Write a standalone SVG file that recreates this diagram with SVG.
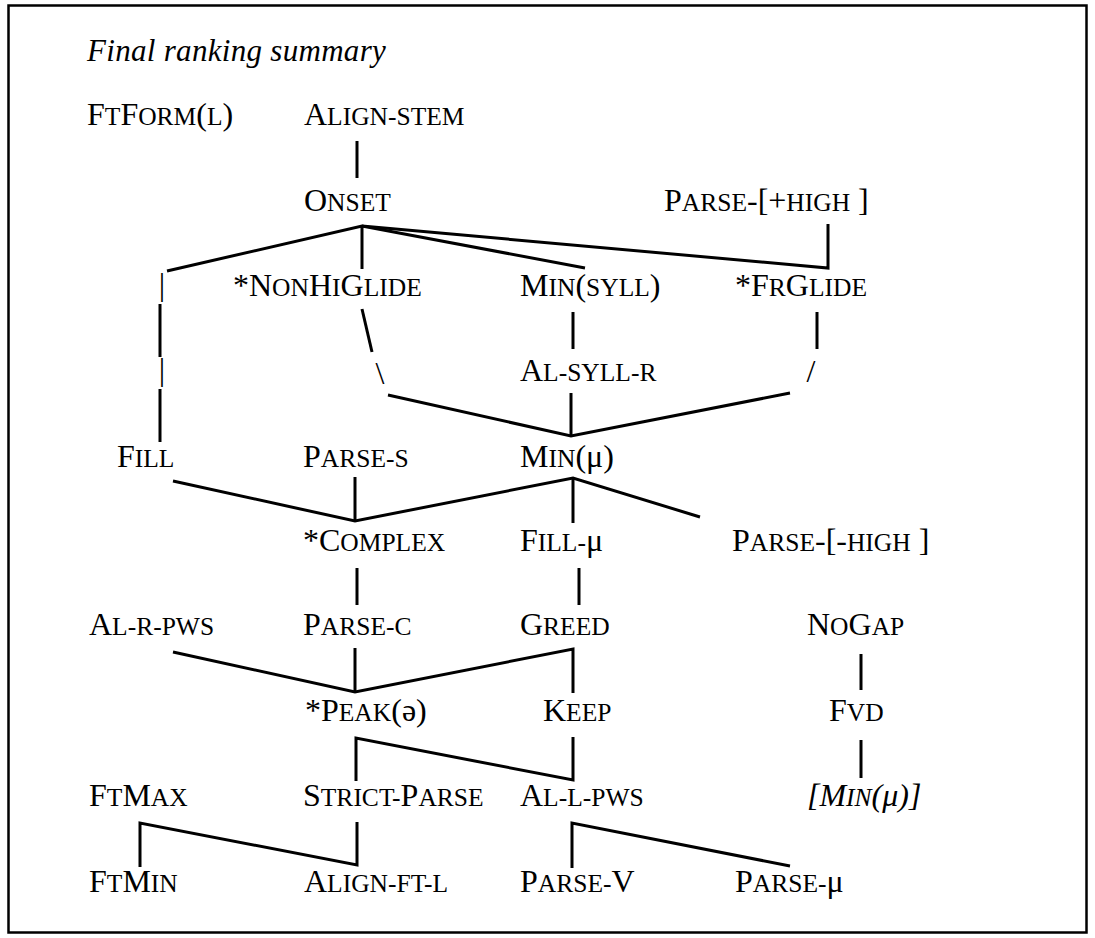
<svg xmlns="http://www.w3.org/2000/svg" width="1095" height="938" viewBox="0 0 1095 938">
<style>
.t{font-family:"Liberation Serif","Times New Roman",serif;font-size:32px;fill:#000}
.sc{font-size:25.5px}
.it{font-style:italic}
.ln{fill:none;stroke:#000;stroke-width:3;stroke-linejoin:miter}
</style>
<rect x="8.5" y="5.5" width="1078" height="927" fill="#fff" stroke="#000" stroke-width="2.5"/>
<text class="t it" x="87" y="61" style="font-size:31px;letter-spacing:0.3px">Final ranking summary</text>
<g id="connectors">
<polyline class="ln" points="357,141 357,178"/>
<polyline class="ln" points="167,271 362,226 585,268"/>
<polyline class="ln" points="362,226 362,269"/>
<polyline class="ln" points="362,226 828,268 828,224"/>
<polyline class="ln" points="160,304 160,357"/>
<polyline class="ln" points="160,389 160,442"/>
<text class="t" x="162" y="295" text-anchor="middle">|</text>
<text class="t" x="162" y="380" text-anchor="middle">|</text>
<polyline class="ln" points="362,309 372,352"/>
<text class="t" x="380" y="384" text-anchor="middle">\</text>
<polyline class="ln" points="388,395 571,436 790,393"/>
<text class="t" x="811" y="382" text-anchor="middle">/</text>
<polyline class="ln" points="573,312 573,349"/>
<polyline class="ln" points="817,312 817,349"/>
<polyline class="ln" points="571,393 571,436"/>
<polyline class="ln" points="173,481 355,521 573,478 700,517"/>
<polyline class="ln" points="355,477 355,521"/>
<polyline class="ln" points="573,478 573,523"/>
<polyline class="ln" points="357,568 357,605"/>
<polyline class="ln" points="579,568 579,605"/>
<polyline class="ln" points="173,652 355,692 573,649 573,693"/>
<polyline class="ln" points="355,648 355,692"/>
<polyline class="ln" points="861,654 861,690"/>
<polyline class="ln" points="356,781 356,738 573,780 573,737"/>
<polyline class="ln" points="861,740 861,778"/>
<polyline class="ln" points="140,867 140,823 357,865 357,822"/>
<polyline class="ln" points="572,868 572,823 790,866"/>
</g>
<g id="n1"><text class="t" x="87" y="125">F<tspan class="sc">T</tspan>F<tspan class="sc">ORM</tspan>(<tspan class="sc">L</tspan>)</text></g>
<g id="n2"><text class="t" x="304" y="125">A<tspan class="sc">LIGN-STEM</tspan></text></g>
<g id="n3"><text class="t" x="304" y="211">O<tspan class="sc">NSET</tspan></text></g>
<g id="n4"><text class="t" x="664" y="211">P<tspan class="sc">ARSE</tspan>-[+<tspan class="sc">HIGH</tspan> ]</text></g>
<g id="n5"><text class="t" x="233" y="296">*N<tspan class="sc">ON</tspan>H<tspan class="sc">I</tspan>G<tspan class="sc">LIDE</tspan></text></g>
<g id="n6"><text class="t" x="520" y="296">M<tspan class="sc">IN</tspan>(<tspan class="sc">SYLL</tspan>)</text></g>
<g id="n7"><text class="t" x="735" y="296">*F<tspan class="sc">R</tspan>G<tspan class="sc">LIDE</tspan></text></g>
<g id="n8"><text class="t" x="520" y="381">A<tspan class="sc">L-SYLL-R</tspan></text></g>
<g id="n9"><text class="t" x="117" y="467">F<tspan class="sc">ILL</tspan></text></g>
<g id="n10"><text class="t" x="303" y="467">P<tspan class="sc">ARSE-S</tspan></text></g>
<g id="n11"><text class="t" x="520" y="467">M<tspan class="sc">IN</tspan>(μ)</text></g>
<g id="n12"><text class="t" x="303" y="551">*C<tspan class="sc">OMPLEX</tspan></text></g>
<g id="n13"><text class="t" x="520" y="551">F<tspan class="sc">ILL-</tspan>μ</text></g>
<g id="n14"><text class="t" x="732" y="551">P<tspan class="sc">ARSE</tspan>-[-<tspan class="sc">HIGH</tspan> ]</text></g>
<g id="n15"><text class="t" x="89" y="635">A<tspan class="sc">L-R-PWS</tspan></text></g>
<g id="n16"><text class="t" x="303" y="635">P<tspan class="sc">ARSE-C</tspan></text></g>
<g id="n17"><text class="t" x="520" y="635">G<tspan class="sc">REED</tspan></text></g>
<g id="n18"><text class="t" x="807" y="635">N<tspan class="sc">O</tspan>G<tspan class="sc">AP</tspan></text></g>
<g id="n19"><text class="t" x="305" y="721">*P<tspan class="sc">EAK</tspan>(ə)</text></g>
<g id="n20"><text class="t" x="543" y="721">K<tspan class="sc">EEP</tspan></text></g>
<g id="n21"><text class="t" x="829" y="721">F<tspan class="sc">VD</tspan></text></g>
<g id="n22"><text class="t" x="89" y="806">F<tspan class="sc">T</tspan>M<tspan class="sc">AX</tspan></text></g>
<g id="n23"><text class="t" x="303" y="806">S<tspan class="sc">TRICT-</tspan>P<tspan class="sc">ARSE</tspan></text></g>
<g id="n24"><text class="t" x="520" y="806">A<tspan class="sc">L-L-PWS</tspan></text></g>
<g id="n25"><text class="t it" x="807" y="806">[M<tspan class="sc">IN</tspan>(μ)]</text></g>
<g id="n26"><text class="t" x="89" y="892">F<tspan class="sc">T</tspan>M<tspan class="sc">IN</tspan></text></g>
<g id="n27"><text class="t" x="304" y="892">A<tspan class="sc">LIGN-FT-L</tspan></text></g>
<g id="n28"><text class="t" x="520" y="892">P<tspan class="sc">ARSE-</tspan>V</text></g>
<g id="n29"><text class="t" x="735" y="892">P<tspan class="sc">ARSE-</tspan>μ</text></g>
</svg>
